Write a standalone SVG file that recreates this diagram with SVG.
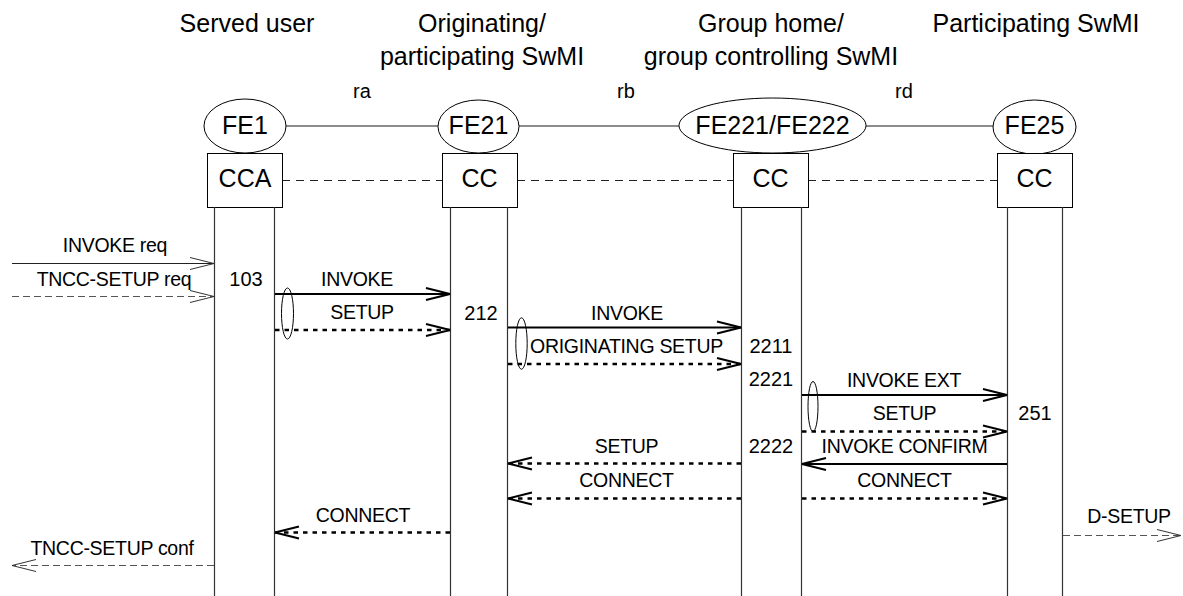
<svg xmlns="http://www.w3.org/2000/svg" width="1183" height="596" viewBox="0 0 1183 596">
<style>
text{font-family:"Liberation Sans",Arial,sans-serif;fill:#000}
.hd{font-size:25px;text-anchor:middle}
.nd{font-size:25px;text-anchor:middle}
.lb{font-size:19.5px;text-anchor:middle;letter-spacing:-0.3px}
.ref{font-size:20px;text-anchor:middle}
.node{fill:#fff;stroke:#000;stroke-width:1}
.life{stroke:#333;stroke-width:1.2;fill:none}
.rel{stroke:#666;stroke-width:1.5;fill:none}
.assoc{stroke:#222;stroke-width:1;stroke-dasharray:8,6;fill:none}
.solid{stroke:#000;stroke-width:2;fill:none;marker-end:url(#ah)}
.dot{stroke:#000;stroke-width:2.6;stroke-dasharray:4.5,5;fill:none;marker-end:url(#ah)}
.thin{stroke:#222;stroke-width:1;fill:none;marker-end:url(#aht)}
.thindash{stroke:#555;stroke-width:1;stroke-dasharray:7,4;fill:none;marker-end:url(#aht)}
.grp{fill:none;stroke:#000;stroke-width:1}
</style>
<defs>
<marker id="ah" markerUnits="userSpaceOnUse" viewBox="0 0 26 14" refX="25" refY="7" markerWidth="26" markerHeight="14" orient="auto" overflow="visible">
<path d="M1,1 L25,7 L1,13" fill="none" stroke="#000" stroke-width="2"/>
</marker>
<marker id="aht" markerUnits="userSpaceOnUse" viewBox="0 0 26 14" refX="25" refY="7" markerWidth="26" markerHeight="14" orient="auto" overflow="visible">
<path d="M1,1 L25,7 L1,13" fill="none" stroke="#333" stroke-width="1"/>
</marker>
</defs>
<rect width="1183" height="596" fill="#fff"/>

<g id="headers">
<text class="hd" x="247" y="32">Served user</text>
<text class="hd" x="482" y="32">Originating/</text>
<text class="hd" x="482" y="65">participating SwMI</text>
<text class="hd" x="771" y="32">Group home/</text>
<text class="hd" x="771" y="65">group controlling SwMI</text>
<text class="hd" x="1036" y="32">Participating SwMI</text>
</g>

<g id="relationships">
<line class="rel" x1="286" y1="126" x2="438" y2="126"/>
<line class="rel" x1="519" y1="126" x2="679" y2="126"/>
<line class="rel" x1="866" y1="126" x2="993" y2="126"/>
<text class="ref" x="362" y="98">ra</text>
<text class="ref" x="626" y="98">rb</text>
<text class="ref" x="904" y="98">rd</text>
<line class="assoc" x1="282" y1="180.5" x2="442" y2="180.5"/>
<line class="assoc" x1="517" y1="180.5" x2="733" y2="180.5"/>
<line class="assoc" x1="808" y1="180.5" x2="997" y2="180.5"/>
</g>

<g id="node-fe1">
<ellipse class="node" cx="245" cy="126" rx="41" ry="27"/>
<text class="nd" x="245" y="134">FE1</text>
<rect class="node" x="207.5" y="153.5" width="75" height="54"/>
<text class="nd" x="245" y="187">CCA</text>
<line class="life" x1="214.5" y1="207" x2="214.5" y2="596"/>
<line class="life" x1="274.5" y1="207" x2="274.5" y2="596"/>
<text class="ref" x="246" y="286">103</text>
</g>

<g id="node-fe21">
<ellipse class="node" cx="478.5" cy="126.5" rx="40.5" ry="26.5"/>
<text class="nd" x="478.5" y="134">FE21</text>
<rect class="node" x="442.5" y="153.5" width="75" height="54"/>
<text class="nd" x="479.5" y="187">CC</text>
<line class="life" x1="450.5" y1="207" x2="450.5" y2="596"/>
<line class="life" x1="507.5" y1="207" x2="507.5" y2="596"/>
<text class="ref" x="481" y="320">212</text>
</g>

<g id="node-fe221">
<ellipse class="node" cx="772.5" cy="125.5" rx="93.5" ry="27.5"/>
<text class="nd" x="772.5" y="134">FE221/FE222</text>
<rect class="node" x="733.5" y="153.5" width="75" height="54"/>
<text class="nd" x="770.5" y="187">CC</text>
<line class="life" x1="741.5" y1="207" x2="741.5" y2="596"/>
<line class="life" x1="801.5" y1="207" x2="801.5" y2="596"/>
<text class="ref" x="771" y="353">2211</text>
<text class="ref" x="771" y="386">2221</text>
<text class="ref" x="771" y="453">2222</text>
</g>

<g id="node-fe25">
<ellipse class="node" cx="1034.5" cy="127" rx="41.5" ry="27"/>
<text class="nd" x="1034.5" y="134">FE25</text>
<rect class="node" x="997.5" y="153.5" width="75" height="54"/>
<text class="nd" x="1034.5" y="187">CC</text>
<line class="life" x1="1007.5" y1="207" x2="1007.5" y2="596"/>
<line class="life" x1="1062.5" y1="207" x2="1062.5" y2="596"/>
<text class="ref" x="1035" y="420">251</text>
</g>

<g id="connectors">
<line class="thin" x1="12" y1="263.5" x2="214" y2="263.5"/>
<text class="lb" x="115" y="252">INVOKE req</text>
<line class="thindash" x1="12" y1="296.5" x2="214" y2="296.5"/>
<text class="lb" x="114" y="286">TNCC-SETUP req</text>

<line class="solid" x1="275" y1="294" x2="450" y2="294"/>
<text class="lb" x="357" y="286">INVOKE</text>
<line class="dot" x1="275" y1="330" x2="450" y2="330"/>
<text class="lb" x="362" y="319">SETUP</text>
<ellipse class="grp" cx="287.5" cy="313.5" rx="6" ry="25.5"/>

<line class="solid" x1="508" y1="327.5" x2="741" y2="327.5"/>
<text class="lb" x="627" y="320">INVOKE</text>
<line class="dot" x1="508" y1="364" x2="741" y2="364"/>
<text class="lb" x="626.5" y="353">ORIGINATING SETUP</text>
<ellipse class="grp" cx="521.5" cy="343.5" rx="5.7" ry="25.7"/>

<line class="solid" x1="802" y1="395" x2="1007" y2="395"/>
<text class="lb" x="904" y="387">INVOKE EXT</text>
<line class="dot" x1="802" y1="431.5" x2="1007" y2="431.5"/>
<text class="lb" x="904.5" y="420">SETUP</text>
<ellipse class="grp" cx="813" cy="406.5" rx="5" ry="25"/>

<line class="solid" x1="1007" y1="464" x2="802" y2="464"/>
<text class="lb" x="904.5" y="453">INVOKE CONFIRM</text>
<line class="dot" x1="741" y1="463.5" x2="508" y2="463.5"/>
<text class="lb" x="626.5" y="453">SETUP</text>
<line class="dot" x1="741" y1="498.5" x2="508" y2="498.5"/>
<text class="lb" x="626.5" y="487">CONNECT</text>
<line class="dot" x1="802" y1="498.5" x2="1007" y2="498.5"/>
<text class="lb" x="904.5" y="487">CONNECT</text>

<line class="dot" x1="450" y1="532.5" x2="275" y2="532.5"/>
<text class="lb" x="363" y="522">CONNECT</text>
<line class="thindash" x1="214" y1="565.5" x2="12" y2="565.5"/>
<text class="lb" x="112" y="555">TNCC-SETUP conf</text>
<line class="thindash" x1="1063" y1="535.5" x2="1181" y2="535.5"/>
<text class="lb" x="1129" y="523">D-SETUP</text>
</g>
</svg>
